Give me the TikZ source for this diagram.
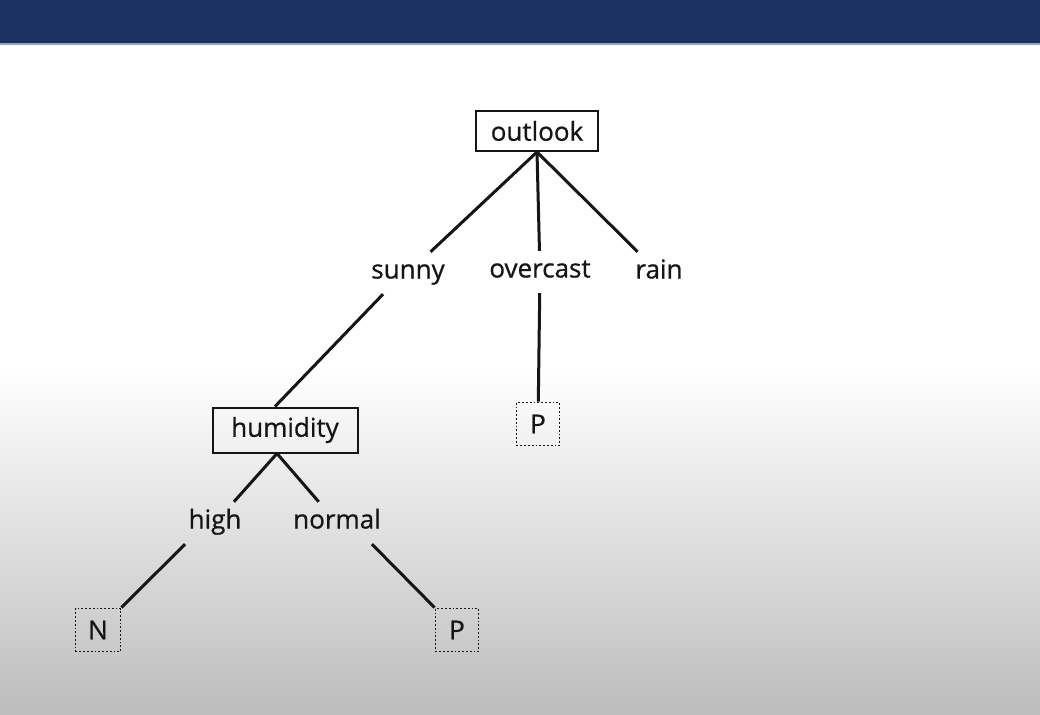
\documentclass[tikz,border=0pt]{standalone}
\usepackage{fontspec}
\setmainfont{Open Sans}
\newfontfamily\heavy{Open Sans}[FakeBold=0.7]
\definecolor{navy}{HTML}{1B3260}
\definecolor{ink}{HTML}{151515}
\begin{document}
\begin{tikzpicture}[x=1pt,y=-1pt,
  every node/.style={font=\heavy\fontsize{26}{28}\selectfont, text=ink},
  attr/.style={draw=ink, line width=2pt, minimum height=40pt, inner sep=0pt},
  lbl/.style={minimum height=42pt, inner sep=0pt, text height=15pt, text depth=4pt},
  leaf/.style={draw=ink, dotted, line width=1.8pt, minimum width=43pt, minimum height=43pt, inner sep=0pt},
  edge/.style={draw=ink, line width=3pt}]
\useasboundingbox (0,0) rectangle (1040,714);
\fill[white] (0,0) rectangle (1040,714);
\shade[top color=white, bottom color=gray!52] (0,370) rectangle (1040,714);
\fill[navy] (0,0) rectangle (1040,43);
\fill[navy!45] (0,43) rectangle (1040,45);
% nodes
\node[attr, minimum width=122pt] (outlook) at (537,131) {outlook};
\node[lbl] (sunny) at (408,273) {sunny};
\node[lbl] (overcast) at (540,272) {overcast};
\node[lbl] (rain) at (659,273) {rain};
\node[attr, minimum width=145pt, minimum height=45pt] (humidity) at (285,430) {humidity};
\node[leaf] (p1) at (538,424) {P};
\node[lbl] (high) at (215,523) {high};
\node[lbl] (normal) at (337,523) {normal};
\node[leaf, minimum width=45pt] (n) at (98,630) {N};
\node[leaf] (p2) at (457,630) {P};
% edges
\draw[edge] (outlook.south) -- (sunny);
\draw[edge] (outlook.south) -- (overcast);
\draw[edge] (outlook.south) -- (rain);
\draw[edge] ([xshift=-25pt]sunny.south) -- ([xshift=-10pt]humidity.north);
\draw[edge] (overcast) -- (p1);
\draw[edge] ([xshift=-8pt]humidity.south) -- (high);
\draw[edge] ([xshift=-8pt]humidity.south) -- (normal);
\draw[edge] ([xshift=-30pt]high.south) -- (n.north east);
\draw[edge] ([xshift=35pt]normal.south) -- (p2.north west);
\end{tikzpicture}
\end{document}
